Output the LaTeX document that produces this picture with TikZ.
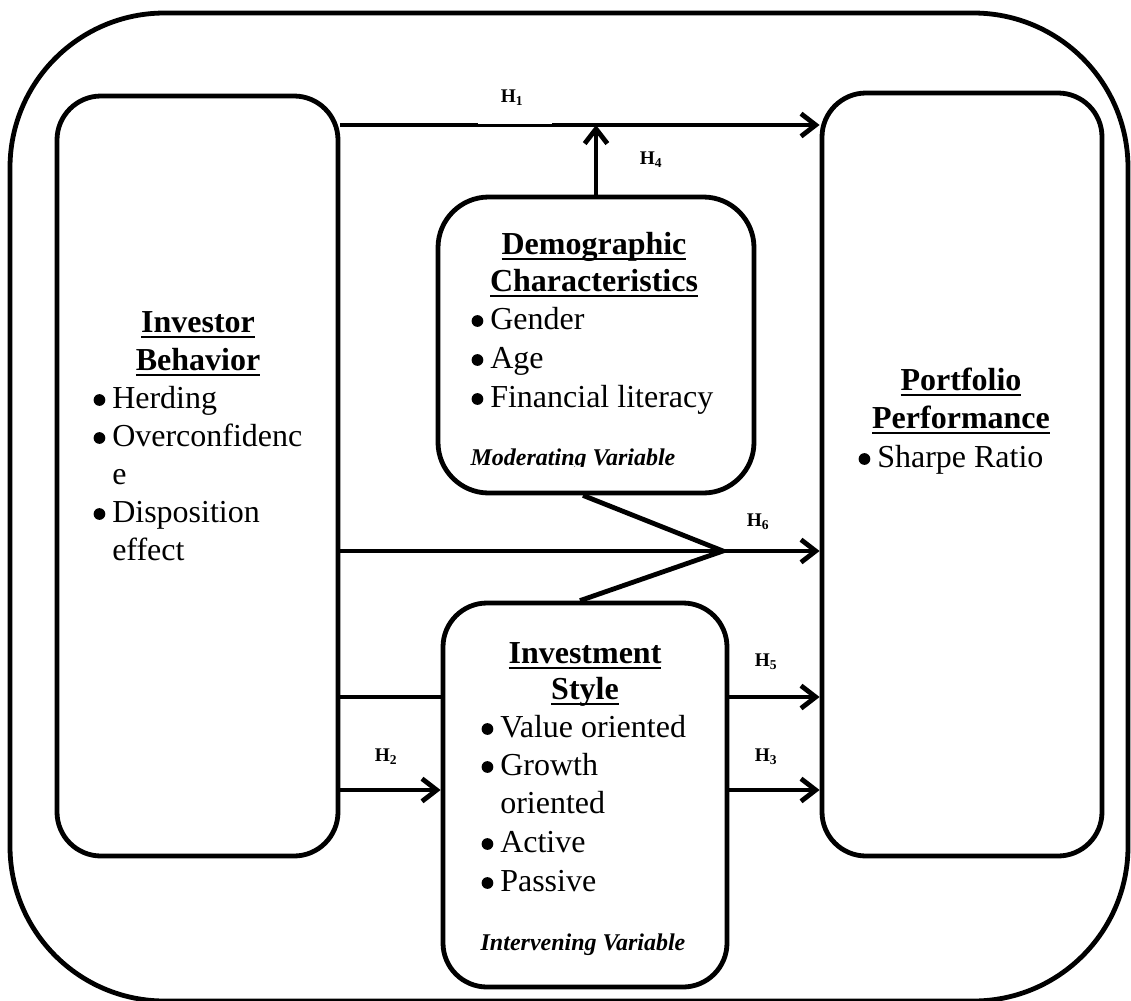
\documentclass[tikz,border=0pt]{standalone}
\usepackage{fontspec}
\setmainfont{Liberation Serif}
\usetikzlibrary{arrows.meta}
\newcommand{\myul}[1]{\setbox0\hbox{#1}\rlap{\rule[-4.6pt]{\wd0}{1.9pt}}\box0}
\begin{document}
\begin{tikzpicture}[x=0.75pt,y=-0.75pt,
 frame/.style={draw, line width=3.6pt, rounded corners=116pt, inner sep=0pt},
 box/.style={draw, line width=3.6pt, rounded corners=33pt, inner sep=0pt},
 conn/.style={line width=3.6pt},
 arr/.style={conn, -{Straight Barb[length=11pt,width=17pt]}},
 ttl/.style={font=\bfseries\fontsize{24}{28}\selectfont, anchor=base, inner sep=0pt},
 itm/.style={font=\fontsize{24}{28}\selectfont, anchor=base west, inner sep=0pt},
 bul/.style={circle, fill, inner sep=0pt, minimum size=8.8pt},
 note/.style={font=\bfseries\itshape\fontsize{18}{22}\selectfont, anchor=base, inner sep=0pt},
 hyp/.style={font=\bfseries\fontsize{14.5}{16}\selectfont, inner sep=0pt}]
\useasboundingbox (0,0) rectangle (1131,1000);
\clip (0,0) rectangle (1131,1000);
% outer frame
\node[frame, minimum width=838.5pt, minimum height=741pt] (outer) at (569,507) {};
% boxes
\node[box, minimum width=210.75pt, minimum height=570pt] (ib) at (197.5,476) {};
\node[box, minimum width=210pt, minimum height=572.25pt] (pp) at (962,474.5) {};
\node[box, rounded corners=38pt, minimum width=237pt, minimum height=222pt] (dc) at (596,345) {};
\node[box, minimum width=213pt, minimum height=288pt] (is) at (585,795) {};
% level coordinates
\coordinate (y1) at (0,125);
\coordinate (y6) at (0,551);
\coordinate (y5) at (0,697);
\coordinate (y2) at (0,790);
\coordinate (apex) at (723,551);
% connectors
\draw[arr] (y1 -| ib.east) -- (y1 -| pp.west);
\fill[white] (478,117) rectangle (552,123.6);
\draw[arr] (dc.north) -- (dc.north |- y1);
\draw[arr] (y6 -| ib.east) -- (y6 -| pp.west);
\draw[conn, line join=miter] ([xshift=-9.75pt]dc.south) -- (apex) -- ([xshift=-3.75pt]is.north);
\draw[conn] (y5 -| ib.east) -- (y5 -| is.west);
\draw[arr] (y5 -| is.east) -- (y5 -| pp.west);
\draw[arr] (y2 -| ib.east) -- (y2 -| is.west);
\draw[arr] (y2 -| is.east) -- (y2 -| pp.west);
% hypothesis labels
\node[hyp] (h1) at (512,98) {H\textsubscript{1}};
\node[hyp] (h4) at (651,160) {H\textsubscript{4}};
\node[hyp] (h6) at (758,522) {H\textsubscript{6}};
\node[hyp] (h5) at (766,662) {H\textsubscript{5}};
\node[hyp] (h2) at (386,757) {H\textsubscript{2}};
\node[hyp] (h3) at (766,757) {H\textsubscript{3}};
% investor behavior text
\node[ttl] (ibt1) at (198,332) {\myul{Investor}};
\node[ttl] (ibt2) at (198,370) {\myul{Behavior}};
\node[itm] (ib1) at (112,408) {Herding};
\node[itm] (ib2) at (112,446) {Overconfidenc};
\node[itm] (ib3) at (112,484) {e};
\node[itm] (ib4) at (112,522) {Disposition};
\node[itm] (ib5) at (112,560) {effect};
% portfolio text
\node[ttl] (ppt1) at (961,390) {\myul{Portfolio}};
\node[ttl] (ppt2) at (961,428) {\myul{Performance}};
\node[itm] (pp1) at (877,467) {Sharpe Ratio};
% demographic text
\node[ttl] (dct1) at (594,254) {\myul{Demographic}};
\node[ttl] (dct2) at (594,291) {\myul{Characteristics}};
\node[itm] (dc1) at (490,329) {Gender};
\node[itm] (dc2) at (490,368) {Age};
\node[itm] (dc3) at (490,407) {Financial literacy};
\begin{scope}
\clip (440,430) rectangle (750,466.5);
\node[note] (dcn) at (573,465) {Moderating Variable};
\end{scope}
% investment style text
\node[ttl] (ist1) at (585,663) {\myul{Investment}};
\node[ttl] (ist2) at (585,699) {\myul{Style}};
\node[itm] (is1) at (500,737) {Value oriented};
\node[itm] (is2) at (500,775) {Growth};
\node[itm] (is3) at (500,813) {oriented};
\node[itm] (is4) at (500,852) {Active};
\node[itm] (is5) at (500,891) {Passive};
\node[note] (isn) at (583,950) {Intervening Variable};
% bullets
\foreach \n in {ib1,ib2,ib4,pp1,dc1,dc2,dc3,is1,is2,is4,is5}
  \node[bul] (b\n) at ([xshift=-9.4pt,yshift=6pt]\n.base west) {};
\end{tikzpicture}
\end{document}
